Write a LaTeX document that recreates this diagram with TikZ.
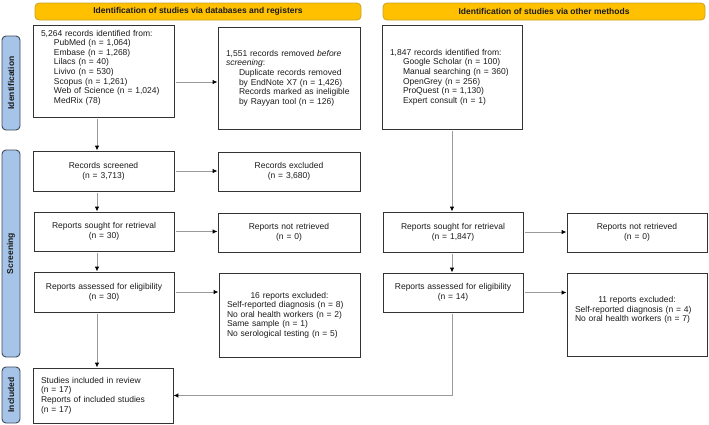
\documentclass[tikz,border=0pt]{standalone}
\usepackage{fontspec}
\setmainfont{Liberation Sans}
\usetikzlibrary{arrows.meta,calc}
\definecolor{bannerY}{HTML}{FFC000}
\definecolor{bannerB}{HTML}{C9A227}
\definecolor{sideFill}{HTML}{A6C4E8}
\definecolor{sideLine}{HTML}{3E4B5B}
\definecolor{boxLine}{HTML}{333333}
\definecolor{lineGray}{HTML}{9A9A9A}
\definecolor{txt}{HTML}{1A1A1A}
\newcommand{\ind}{\hspace*{13pt}}
\begin{document}
\begin{tikzpicture}[x=1pt,y=-1pt,
  every node/.style={text=txt},
  banner/.style={draw=bannerB, fill=bannerY, line width=0.8pt, rounded corners=4pt,
    minimum height=17pt, inner sep=0pt, font=\bfseries\fontsize{8.5}{9.6}\selectfont},
  side/.style={draw=sideLine, fill=sideFill, line width=0.9pt, rounded corners=4pt,
    rotate=90, minimum height=18pt, inner sep=0pt, font=\bfseries\fontsize{8.5}{9.6}\selectfont},
  box/.style={draw=boxLine, line width=0.8pt, inner xsep=8pt, inner ysep=0pt,
    font=\fontsize{8.5}{9.6}\selectfont},
  lbox/.style={box, align=left},
  cbox/.style={box, align=center},
  arr/.style={draw=lineGray, line width=1pt, shorten <=2pt,
    -{Latex[length=5pt,width=4.5pt,color=black]}},
  conn/.style={draw=lineGray, line width=1pt}
]
\useasboundingbox (0,0) rectangle (709,424);

% banners
\node[banner, minimum width=326pt] (b1) at (198,11.5) {Identification of studies via databases and registers};
\node[banner, minimum width=322pt] (b2) at (544,11.5) {Identification of studies via other methods};

% side labels
\node[side, minimum width=94pt] (s1) at (11,83) {Identification};
\node[side, minimum width=207pt] (s2) at (11,253.5) {Screening};
\node[side, minimum width=56pt] (s3) at (11,395) {Included};

% left column
\node[lbox, text width=125pt, minimum height=92pt] (A) at (103.5,71) {5,264 records identified from:\\
\ind PubMed (n = 1,064)\\
\ind Embase (n = 1,268)\\
\ind Lilacs (n = 40)\\
\ind Livivo (n = 530)\\
\ind Scopus (n = 1,261)\\
\ind Web of Science (n = 1,024)\\
\ind MedRix (78)\par\vspace{7pt}};

\node[lbox, text width=126pt, minimum height=102pt] (B) at (289,78) {1,551 records removed \textit{before}\\
\textit{screening}:\\
\ind Duplicate records removed\\
\ind by EndNote X7 (n = 1,426)\\
\ind Records marked as ineligible\\
\ind by Rayyan tool (n = 126)};

\node[cbox, text width=125pt, minimum height=40pt] (S) at (103.5,171) {Records screened\\(n = 3,713)};
\node[cbox, text width=126pt, minimum height=39pt] (E) at (289,171.5) {Records excluded\\(n = 3,680)};

\node[cbox, text width=124pt, minimum height=39pt] (R1) at (104,231.5) {Reports sought for retrieval\\(n = 30)};
\node[cbox, text width=126pt, minimum height=39pt] (N1) at (289,232.5) {Reports not retrieved\\(n = 0)};

\node[cbox, text width=124pt, minimum height=40pt] (E1) at (104,292) {Reports assessed for eligibility\\(n = 30)};
\node[lbox, text width=125pt, minimum height=84pt] (X1) at (289.5,315) {\makebox[\linewidth][c]{16 reports excluded:}\\
Self-reported diagnosis (n = 8)\\
No oral health workers (n = 2)\\
Same sample (n = 1)\\
No serological testing (n = 5)};

\node[lbox, text width=124pt, minimum height=55pt] (I) at (103,395.5) {Studies included in review\\
(n = 17)\\
Reports of included studies\\
(n = 17)};

% right column
\node[lbox, text width=124pt, minimum height=104pt] (C) at (452,77) {1,847 records identified from:\\
\ind Google Scholar (n = 100)\\
\ind Manual searching (n = 360)\\
\ind OpenGrey (n = 256)\\
\ind ProQuest (n = 1,130)\\
\ind Expert consult (n = 1)};

\node[cbox, text width=124pt, minimum height=40pt] (R2) at (453,232) {Reports sought for retrieval\\(n = 1,847)};
\node[cbox, text width=124pt, minimum height=39pt] (N2) at (637,232.5) {Reports not retrieved\\(n = 0)};

\node[cbox, text width=124pt, minimum height=39pt] (E2) at (453,292.5) {Reports assessed for eligibility\\(n = 14)};
\node[lbox, text width=124pt, minimum height=83pt] (X2) at (637,314.5) {\makebox[\linewidth][c]{11 reports excluded:}\\
Self-reported diagnosis (n = 4)\\
No oral health workers (n = 7)\par\vspace{9pt}};

% connectors left
\draw[arr] ([xshift=-6.5pt]A.south) -- ([xshift=-6.5pt]A.south |- S.north);
\draw[arr] ([yshift=-11pt]A.east) -- ([yshift=-11pt]A.east -| B.west);
\draw[arr] (S.east) -- (S.east -| E.west);
\draw[arr] ([xshift=-6.5pt]S.south) -- ([xshift=-6.5pt]S.south |- R1.north);
\draw[arr] (R1.east) -- (R1.east -| N1.west);
\draw[arr] ([xshift=-7pt]R1.south) -- ([xshift=-7pt]R1.south |- E1.north);
\draw[arr] (E1.east) -- (E1.east -| X1.west);
\draw[arr] ([xshift=-7pt]E1.south) -- ([xshift=-7pt]E1.south |- I.north);

% connectors right
\draw[arr] (C.south) -- (C.south |- R2.north);
\draw[arr] (R2.east) -- (R2.east -| N2.west);
\draw[arr] ([xshift=-1pt]R2.south) -- ([xshift=-1pt]R2.south |- E2.north);
\draw[arr] (E2.east) -- (E2.east -| X2.west);
\draw[arr] ([xshift=-1pt]E2.south) |- (I.east);
\end{tikzpicture}
\end{document}
